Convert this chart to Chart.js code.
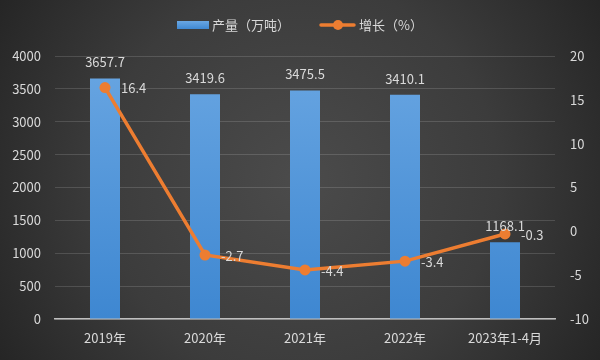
<!DOCTYPE html>
<html>
<head>
<meta charset="utf-8">
<script src="https://cdn.jsdelivr.net/npm/chart.js@4/dist/chart.umd.min.js"></script>
<style>
html,body{margin:0;padding:0;background:#333;}
#wrap{width:600px;height:360px;position:relative;}
</style>
</head>
<body>
<div id="wrap"><canvas id="c" width="600" height="360"></canvas></div>
<script>
const categories = ['2019年', '2020年', '2021年', '2022年', '2023年1-4月'];
const output = [3657.7, 3419.6, 3475.5, 3410.1, 1168.1];
const growth = [16.4, -2.7, -4.4, -3.4, -0.3];
const seriesNames = ['产量（万吨）', '增长（%）'];

const FONT = '"Noto Sans CJK SC", "Microsoft YaHei", "Noto Sans", sans-serif';
const TXT = '#d9d9d9';

const bgPlugin = {
  id: 'bg',
  beforeDraw(chart) {
    const ctx = chart.ctx;
    const w = chart.width, h = chart.height;
    ctx.save();
    const g = ctx.createRadialGradient(w/2, h/2, 0, w/2, h/2, 360);
    g.addColorStop(0, '#4b4b4b');
    g.addColorStop(0.55, '#3c3c3c');
    g.addColorStop(1, '#242424');
    ctx.fillStyle = g;
    ctx.fillRect(0, 0, w, h);
    ctx.restore();
  }
};

const labelPlugin = {
  id: 'labels',
  afterDatasetsDraw(chart) {
    const ctx = chart.ctx;
    ctx.save();
    ctx.font = '13px ' + FONT;
    ctx.fillStyle = TXT;
    ctx.textBaseline = 'middle';
    const barMeta = chart.getDatasetMeta(0);
    ctx.textAlign = 'center';
    barMeta.data.forEach((el, i) => {
      ctx.fillText(output[i].toFixed(1), el.x, el.y - 16);
    });
    const lineMeta = chart.getDatasetMeta(1);
    ctx.textAlign = 'left';
    lineMeta.data.forEach((el, i) => {
      ctx.fillText(growth[i].toFixed(1), el.x + 16, el.y + 1);
    });
    ctx.restore();
  }
};

const legendPlugin = {
  id: 'customLegend',
  afterDraw(chart) {
    const ctx = chart.ctx;
    ctx.save();
    const y = 25;
    const bg = ctx.createLinearGradient(0, 21, 0, 29);
    bg.addColorStop(0, '#6aa7e3');
    bg.addColorStop(1, '#3f88d2');
    ctx.fillStyle = bg;
    ctx.fillRect(177, 21, 32, 8);
    ctx.font = '13px ' + FONT;
    ctx.fillStyle = TXT;
    ctx.textBaseline = 'middle';
    ctx.textAlign = 'left';
    ctx.fillText(seriesNames[0], 212, y);
    ctx.strokeStyle = '#ED7D31';
    ctx.lineWidth = 3.5;
    ctx.lineCap = 'round';
    ctx.beginPath();
    ctx.moveTo(321, y);
    ctx.lineTo(354, y);
    ctx.stroke();
    ctx.fillStyle = '#ED7D31';
    ctx.beginPath();
    ctx.arc(338, y, 5, 0, Math.PI * 2);
    ctx.fill();
    ctx.fillStyle = TXT;
    ctx.fillText(seriesNames[1], 359, y);
    ctx.restore();
  }
};

const ctx = document.getElementById('c').getContext('2d');
const barGrad = ctx.createLinearGradient(0, 56, 0, 319);
barGrad.addColorStop(0, '#69a6e2');
barGrad.addColorStop(1, '#3e87d1');

new Chart(ctx, {
  type: 'bar',
  data: {
    labels: categories,
    datasets: [
      {
        type: 'bar',
        label: seriesNames[0],
        data: output,
        backgroundColor: barGrad,
        borderWidth: 0,
        barPercentage: 0.3,
        categoryPercentage: 1,
        yAxisID: 'y',
        order: 2
      },
      {
        type: 'line',
        label: seriesNames[1],
        data: growth,
        borderColor: '#ED7D31',
        backgroundColor: '#ED7D31',
        borderWidth: 3.5,
        pointRadius: 5.5,
        pointBorderWidth: 0,
        pointBackgroundColor: '#ED7D31',
        tension: 0,
        yAxisID: 'y1',
        order: 1
      }
    ]
  },
  options: {
    responsive: false,
    animation: false,
    devicePixelRatio: 1,
    layout: { padding: { top: 56, left: 0, right: 0, bottom: 0 } },
    plugins: {
      legend: { display: false },
      tooltip: { enabled: false },
      title: { display: false }
    },
    scales: {
      x: {
        grid: { display: false, drawTicks: false },
        border: { display: true, color: '#bfbfbf', width: 1.5 },
        ticks: { color: TXT, font: { size: 13, family: FONT }, padding: 11, maxRotation: 0, autoSkip: false },
        afterFit(s) { s.height = 41; }
      },
      y: {
        position: 'left',
        min: 0, max: 4000,
        ticks: { stepSize: 500, color: TXT, font: { size: 13, family: FONT }, padding: 14, callback: v => String(v) },
        grid: { color: 'rgba(255,255,255,0.14)', lineWidth: 1, drawTicks: false },
        border: { display: false },
        afterFit(s) { s.width = 55; }
      },
      y1: {
        position: 'right',
        min: -10, max: 20,
        ticks: { stepSize: 5, color: TXT, font: { size: 13, family: FONT }, padding: 15, callback: v => String(v) },
        grid: { display: false, drawTicks: false },
        border: { display: false },
        afterFit(s) { s.width = 45; }
      }
    }
  },
  plugins: [bgPlugin, labelPlugin, legendPlugin]
});
</script>
</body>
</html>
